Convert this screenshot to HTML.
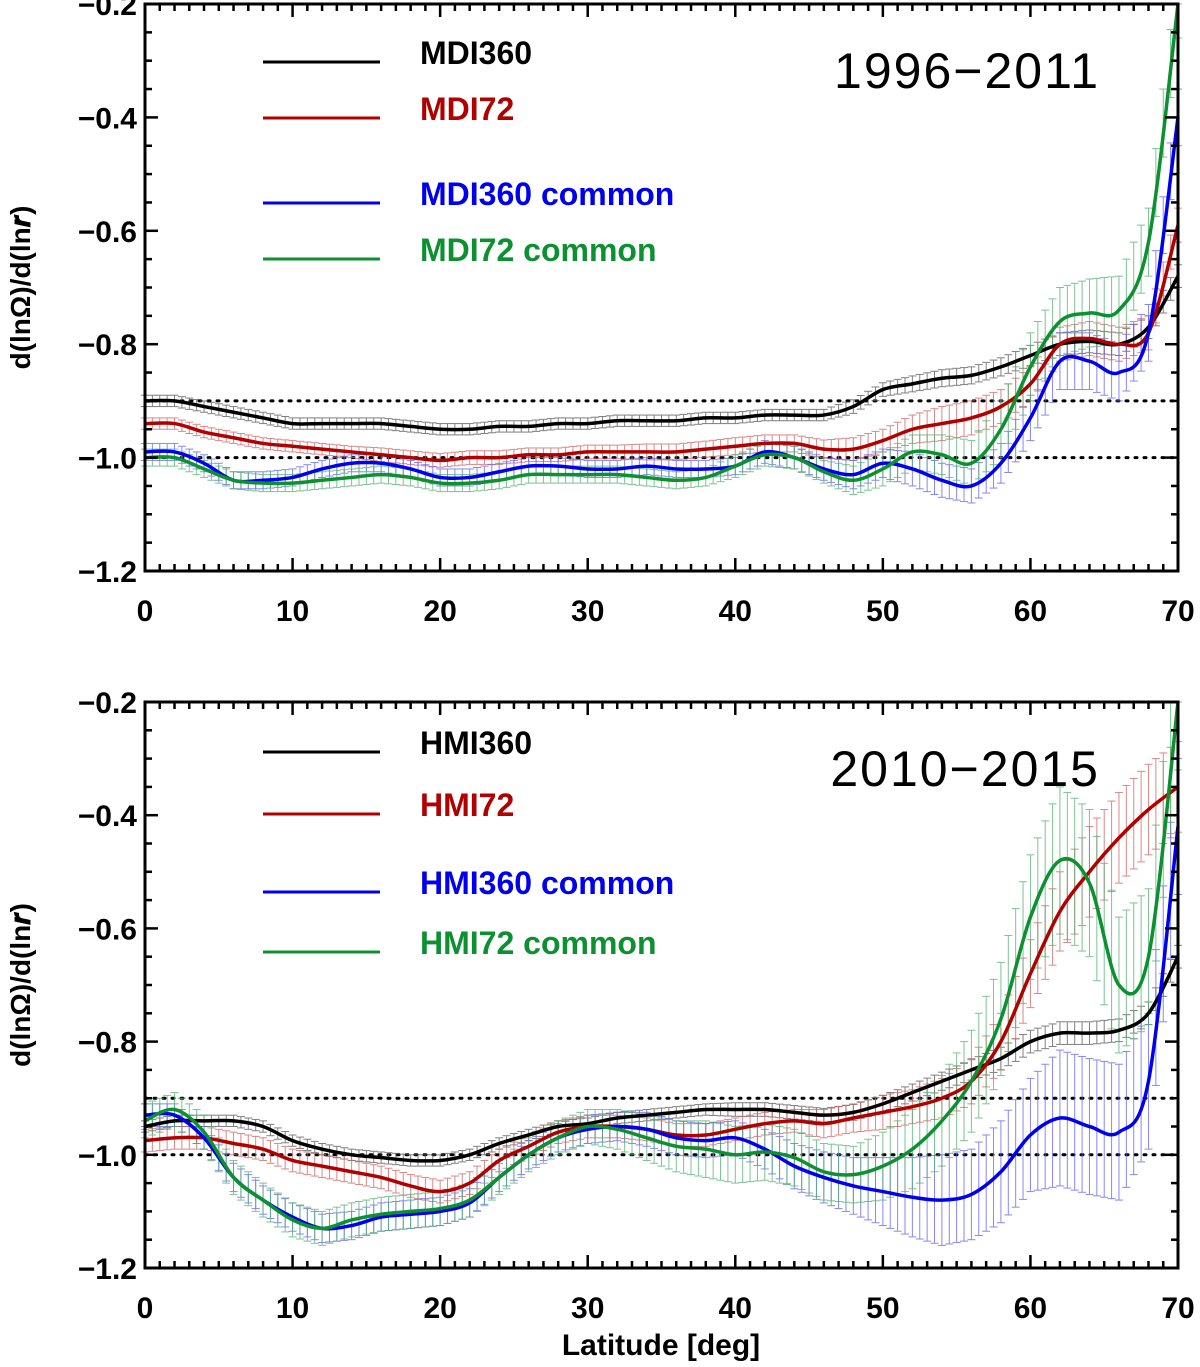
<!DOCTYPE html>
<html><head><meta charset="utf-8">
<style>
html,body{margin:0;padding:0;background:#fff;}
svg{display:block;}
text{font-family:"Liberation Sans",sans-serif;font-weight:bold;}
</style></head>
<body>
<svg id="chart" width="1200" height="1367" viewBox="0 0 1200 1367" xmlns="http://www.w3.org/2000/svg"></svg>
<script>
// ---- data ----
const latitudes = [0,2,4,6,8,10,12,14,16,18,20,22,24,26,28,30,32,34,36,38,40,42,44,46,48,50,52,54,56,58,60,62,64,66,68,70];
const yTicks = [-1.2,-1.0,-0.8,-0.6,-0.4,-0.2];
const yTickLabels = ["\u22121.2","\u22121.0","\u22120.8","\u22120.6","\u22120.4","\u22120.2"];
const xTicks = [0,10,20,30,40,50,60,70];
const xTickLabels = ["0","10","20","30","40","50","60","70"];
const refLines = [-0.9,-1.0];

const mdi360 = [-0.90,-0.90,-0.91,-0.92,-0.93,-0.94,-0.94,-0.94,-0.94,-0.945,-0.95,-0.95,-0.945,-0.945,-0.94,-0.94,-0.935,-0.935,-0.935,-0.93,-0.93,-0.925,-0.925,-0.925,-0.91,-0.88,-0.87,-0.86,-0.855,-0.84,-0.82,-0.80,-0.795,-0.80,-0.77,-0.68];
const mdi360Err = [0.01,0.01,0.01,0.01,0.01,0.01,0.01,0.01,0.01,0.01,0.01,0.01,0.01,0.01,0.01,0.01,0.01,0.01,0.01,0.01,0.01,0.01,0.01,0.01,0.012,0.012,0.014,0.015,0.015,0.016,0.018,0.02,0.02,0.02,0.02,0.02];
const mdi72 = [-0.94,-0.94,-0.955,-0.965,-0.975,-0.98,-0.985,-0.99,-0.995,-1.0,-1.005,-1.0,-1.0,-0.995,-0.995,-0.99,-0.99,-0.99,-0.99,-0.985,-0.98,-0.975,-0.975,-0.985,-0.985,-0.97,-0.95,-0.94,-0.93,-0.91,-0.87,-0.80,-0.79,-0.80,-0.78,-0.59];
const mdi72Err = [0.01,0.01,0.01,0.01,0.01,0.01,0.01,0.01,0.012,0.012,0.012,0.012,0.012,0.012,0.012,0.012,0.012,0.014,0.014,0.014,0.015,0.015,0.015,0.016,0.02,0.02,0.025,0.03,0.03,0.03,0.03,0.03,0.03,0.03,0.03,0.03];
const mdi360c = [-0.99,-0.99,-1.01,-1.04,-1.04,-1.035,-1.02,-1.01,-1.01,-1.02,-1.035,-1.035,-1.025,-1.015,-1.015,-1.02,-1.02,-1.015,-1.02,-1.02,-1.015,-0.99,-1.0,-1.02,-1.03,-1.01,-1.02,-1.04,-1.05,-1.01,-0.93,-0.83,-0.83,-0.85,-0.78,-0.40];
const mdi360cErr = [0.015,0.015,0.015,0.015,0.015,0.015,0.015,0.015,0.015,0.015,0.015,0.015,0.015,0.015,0.015,0.015,0.015,0.015,0.015,0.015,0.015,0.02,0.02,0.02,0.025,0.025,0.03,0.03,0.03,0.035,0.04,0.05,0.05,0.05,0.05,0.05];
const mdi72c = [-1.0,-1.0,-1.02,-1.04,-1.045,-1.045,-1.04,-1.035,-1.03,-1.035,-1.045,-1.045,-1.04,-1.03,-1.03,-1.03,-1.03,-1.035,-1.04,-1.035,-1.015,-0.995,-1.0,-1.025,-1.04,-1.02,-0.99,-0.995,-1.01,-0.95,-0.84,-0.76,-0.745,-0.74,-0.62,-0.20];
const mdi72cErr = [0.015,0.015,0.015,0.015,0.015,0.015,0.015,0.015,0.015,0.015,0.015,0.015,0.015,0.015,0.015,0.015,0.015,0.015,0.015,0.015,0.02,0.02,0.02,0.02,0.025,0.03,0.03,0.035,0.04,0.05,0.06,0.06,0.06,0.06,0.06,0.06];

const hmi360 = [-0.95,-0.94,-0.94,-0.94,-0.95,-0.975,-0.99,-1.0,-1.005,-1.01,-1.01,-1.0,-0.98,-0.965,-0.95,-0.945,-0.935,-0.93,-0.925,-0.92,-0.92,-0.92,-0.925,-0.93,-0.925,-0.91,-0.89,-0.87,-0.85,-0.83,-0.80,-0.785,-0.785,-0.78,-0.75,-0.65];
const hmi360Err = [0.01,0.01,0.01,0.01,0.01,0.01,0.01,0.01,0.01,0.01,0.01,0.01,0.01,0.01,0.01,0.01,0.01,0.01,0.01,0.01,0.012,0.012,0.012,0.012,0.014,0.015,0.015,0.016,0.018,0.02,0.02,0.02,0.02,0.02,0.02,0.02];
const hmi72 = [-0.975,-0.97,-0.97,-0.98,-0.99,-1.01,-1.02,-1.03,-1.04,-1.055,-1.065,-1.05,-1.01,-0.985,-0.96,-0.95,-0.95,-0.955,-0.965,-0.965,-0.955,-0.945,-0.94,-0.945,-0.935,-0.925,-0.915,-0.90,-0.87,-0.80,-0.68,-0.57,-0.50,-0.44,-0.39,-0.35];
const hmi72Err = [0.02,0.02,0.02,0.02,0.02,0.02,0.02,0.02,0.02,0.02,0.02,0.02,0.02,0.02,0.02,0.02,0.02,0.02,0.02,0.02,0.02,0.02,0.02,0.025,0.025,0.03,0.03,0.035,0.04,0.05,0.06,0.07,0.08,0.08,0.08,0.08];
const hmi360c = [-0.93,-0.93,-0.97,-1.04,-1.08,-1.11,-1.13,-1.125,-1.11,-1.105,-1.10,-1.085,-1.04,-1.0,-0.97,-0.955,-0.95,-0.955,-0.97,-0.975,-0.97,-0.99,-1.02,-1.04,-1.055,-1.065,-1.075,-1.08,-1.07,-1.03,-0.965,-0.935,-0.95,-0.96,-0.87,-0.42];
const hmi360cErr = [0.02,0.02,0.02,0.025,0.025,0.025,0.025,0.025,0.025,0.025,0.025,0.025,0.025,0.025,0.025,0.025,0.025,0.03,0.03,0.03,0.03,0.035,0.04,0.045,0.05,0.06,0.07,0.08,0.08,0.09,0.1,0.12,0.12,0.12,0.12,0.12];
const hmi72c = [-0.94,-0.92,-0.96,-1.04,-1.08,-1.115,-1.13,-1.115,-1.105,-1.10,-1.095,-1.08,-1.04,-1.0,-0.97,-0.95,-0.955,-0.97,-0.985,-0.99,-1.0,-0.995,-1.005,-1.03,-1.035,-1.02,-0.99,-0.94,-0.87,-0.76,-0.58,-0.48,-0.52,-0.70,-0.65,-0.20];
const hmi72cErr = [0.03,0.03,0.03,0.03,0.03,0.03,0.03,0.03,0.03,0.03,0.03,0.03,0.03,0.03,0.03,0.03,0.035,0.04,0.045,0.05,0.05,0.05,0.05,0.05,0.05,0.06,0.07,0.08,0.09,0.1,0.11,0.13,0.13,0.12,0.12,0.12];

const NS = "http://www.w3.org/2000/svg";
const svg = document.getElementById('chart');
function mk(tag, attrs, parent){const e=document.createElementNS(NS,tag);for(const k in attrs)e.setAttribute(k,attrs[k]);(parent||svg).appendChild(e);return e;}

const X0=145, X1=1178;
function xScale(v){return X0+(v/70)*(X1-X0);}
function makeY(top,bottom){return v=>top+(-0.2-v)/1.0*(bottom-top);}
function interp(arr,lat){const i=Math.min(Math.floor(lat/2),latitudes.length-2);const t=(lat-latitudes[i])/2;return arr[i]*(1-t)+arr[i+1]*t;}
function smoothPath(xs,ys){
  let d=`M${xs[0]},${ys[0]}`;
  for(let i=0;i<xs.length-1;i++){
    const x0=xs[Math.max(i-1,0)],y0=ys[Math.max(i-1,0)],x1=xs[i],y1=ys[i],x2=xs[i+1],y2=ys[i+1],x3=xs[Math.min(i+2,xs.length-1)],y3=ys[Math.min(i+2,ys.length-1)];
    d+=` C${x1+(x2-x0)/6},${y1+(y2-y0)/6} ${x2-(x3-x1)/6},${y2-(y3-y1)/6} ${x2},${y2}`;
  }
  return d;
}

function panel(cfg){
  const {top,bottom,series,period,name}=cfg;
  const y=makeY(top,bottom);
  const g=mk('g',{});
  
  
  refLines.forEach(v=>{
    const l=mk('line',{x1:X0,x2:X1,y1:y(v),y2:y(v),stroke:'#000','stroke-width':3,'stroke-dasharray':'2 7','stroke-linecap':'round'},g);
    
    
  });
  series.forEach(s=>{
    const eg=mk('g',{stroke:s.err,'stroke-width':1,opacity:0.75},g);
    
    
    for(let lat=0;lat<=70.001;lat+=0.5){
      const v=interp(s.data,lat), e=interp(s.errs,lat), px=xScale(lat);
      const yt=Math.max(y(v+e),top), yb=Math.min(y(v-e),bottom);
      mk('line',{x1:px,x2:px,y1:yt,y2:yb},eg);
      mk('line',{x1:px-4,x2:px+4,y1:yt,y2:yt},eg);
      mk('line',{x1:px-4,x2:px+4,y1:yb,y2:yb},eg);
    }
  });
  series.forEach(s=>{
    const p=mk('path',{d:smoothPath(latitudes.map(xScale),s.data.map(y)),fill:'none',stroke:s.color,'stroke-width':3.5},g);
    
    
  });
  const fr=mk('rect',{x:X0,y:top,width:X1-X0,height:bottom-top,fill:'none',stroke:'#000','stroke-width':3},g);
  
  
  for(let v=0;v<=70;v++){
    const len=(v%10===0)?13:7, px=xScale(v);
    mk('line',{x1:px,x2:px,y1:bottom,y2:bottom-len,stroke:'#000','stroke-width':2.5},g);
    mk('line',{x1:px,x2:px,y1:top,y2:top+len,stroke:'#000','stroke-width':2.5},g);
  }
  xTicks.forEach((v,i)=>{
    const t=mk('text',{x:xScale(v),y:bottom+50,'text-anchor':'middle','font-size':30,fill:'#000'},g);
    t.textContent=xTickLabels[i];
    
    
  });
  for(let k=0;k<=20;k++){
    const v=-1.2+k*0.05, len=(k%4===0)?13:7, py=y(v);
    mk('line',{x1:X0,x2:X0+len,y1:py,y2:py,stroke:'#000','stroke-width':2.5},g);
    mk('line',{x1:X1,x2:X1-len,y1:py,y2:py,stroke:'#000','stroke-width':2.5},g);
  }
  yTicks.forEach((v,i)=>{
    const t=mk('text',{x:X0-8,y:y(v)+11,'text-anchor':'end','font-size':30,fill:'#000'},g);
    t.textContent=yTickLabels[i];
    
    
  });
  const cy=(top+bottom)/2;
  const yt=mk('text',{x:0,y:0,transform:`translate(30,${cy}) rotate(-90)`,'text-anchor':'middle','font-size':28,fill:'#000'},g);
  yt.textContent='d(ln\u03A9)/d(ln\u{1D493})';
  
  
  series.forEach((s,i)=>{
    const ly=top+cfg.legendY[i];
    const lg=mk('g',{},g);
    
    
    mk('line',{x1:263,x2:380,y1:ly,y2:ly,stroke:s.color,'stroke-width':3},lg);
    const t=mk('text',{x:420,y:ly+2,'font-size':32,fill:s.color},lg);
    t.textContent=s.label;
  });
  const pt=mk('text',{x:1100,y:top+84,'text-anchor':'end','font-size':50,fill:'#000','style':'font-weight:normal;letter-spacing:2px'},g);
  pt.textContent=period;
  
  
}

panel({name:'mdi-panel',top:4,bottom:571,period:'1996\u22122011',legendY:[58,114,199,255],series:[
  {key:'mdi360',label:'MDI360',data:mdi360,errs:mdi360Err,color:'#000000',err:'#555555'},
  {key:'mdi72',label:'MDI72',data:mdi72,errs:mdi72Err,color:'#b00000',err:'#d06060'},
  {key:'mdi360-common',label:'MDI360 common',data:mdi360c,errs:mdi360cErr,color:'#0000ee',err:'#6060ee'},
  {key:'mdi72-common',label:'MDI72 common',data:mdi72c,errs:mdi72cErr,color:'#0c9030',err:'#50b070'}]});
panel({name:'hmi-panel',top:702,bottom:1268,period:'2010\u22122015',legendY:[50,112,190,250],series:[
  {key:'hmi360',label:'HMI360',data:hmi360,errs:hmi360Err,color:'#000000',err:'#555555'},
  {key:'hmi72',label:'HMI72',data:hmi72,errs:hmi72Err,color:'#b00000',err:'#d06060'},
  {key:'hmi360-common',label:'HMI360 common',data:hmi360c,errs:hmi360cErr,color:'#0000ee',err:'#6060ee'},
  {key:'hmi72-common',label:'HMI72 common',data:hmi72c,errs:hmi72cErr,color:'#0c9030',err:'#50b070'}]});

const xt=mk('text',{x:661,y:1355,'text-anchor':'middle','font-size':30,fill:'#000'});
xt.textContent='Latitude [deg]';


</script>
</body></html>
